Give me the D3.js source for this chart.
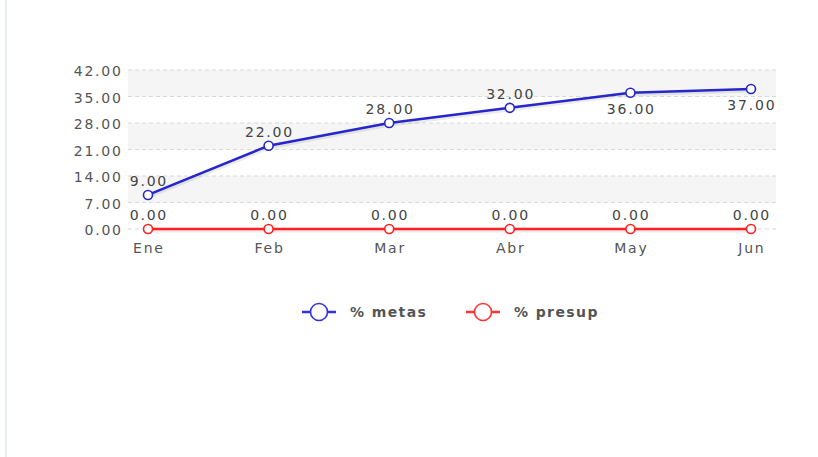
<script src="https://d3js.org/d3.v7.js"></script>
<style>
    body { margin: 0; background: #fff; }
    svg { font-family: "DejaVu Sans", Verdana, sans-serif; }
</style>
<svg width="818" height="457"></svg>
<script>
    const months = ['Ene', 'Feb', 'Mar', 'Abr', 'May', 'Jun'];
    const metas = [9, 22, 28, 32, 36, 37];
    const presup = [0, 0, 0, 0, 0, 0];
    const yTicks = [0, 7, 14, 21, 28, 35, 42];
    // which metas labels sit under their point
    const metasBelow = [false, false, false, false, true, true];

    const svg = d3.select('svg');
    const fs = 14, ls = 1.8;

    // light frame line on the left
    svg.append('rect').attr('x', 5).attr('y', 0).attr('width', 2).attr('height', 457).attr('fill', '#e6edf3');

    const left = 128, right = 776;
    const x = d3.scalePoint().domain(months).range([148, 751]);
    const y = d3.scaleLinear().domain([0, 42]).range([229, 70]);

    // alternating bands
    for (let i = 0; i < yTicks.length - 1; i++) {
        if (i % 2 === 1) continue;
        const top = yTicks[yTicks.length - 1 - i], bot = yTicks[yTicks.length - 2 - i];
        svg.append('rect')
            .attr('x', left).attr('width', right - left)
            .attr('y', y(top)).attr('height', y(bot) - y(top))
            .attr('fill', '#f5f5f5');
    }

    svg.selectAll('line.grid')
        .data(yTicks)
        .join('line')
        .attr('class', 'grid')
        .attr('x1', left).attr('x2', right)
        .attr('y1', d => y(d)).attr('y2', d => y(d))
        .attr('stroke', '#d9d9d9')
        .attr('stroke-dasharray', '4,3');

    svg.selectAll('text.ytick')
        .data(yTicks)
        .join('text')
        .attr('class', 'ytick')
        .attr('x', 121 + ls).attr('y', d => y(d) + 6)
        .attr('text-anchor', 'end')
        .attr('font-size', fs).attr('fill', '#555')
        .attr('letter-spacing', ls)
        .text(d => d.toFixed(2));

    svg.selectAll('text.xtick')
        .data(months)
        .join('text')
        .attr('class', 'xtick')
        .attr('x', d => x(d) + ls / 2).attr('y', 253)
        .attr('text-anchor', 'middle')
        .attr('font-size', fs).attr('fill', '#555')
        .attr('letter-spacing', ls)
        .text(d => d);

    const line = d3.line().x((d, i) => x(months[i])).y(d => y(d));

    function series(values, color, below) {
        const g = svg.append('g');
        // shadow
        g.append('path').datum(values)
            .attr('d', line)
            .attr('transform', 'translate(1,2)')
            .attr('fill', 'none').attr('stroke', 'rgba(0,0,0,0.08)').attr('stroke-width', 3);
        g.append('path').datum(values)
            .attr('d', line)
            .attr('fill', 'none').attr('stroke', color).attr('stroke-width', 2.5);
        g.selectAll('circle')
            .data(values)
            .join('circle')
            .attr('cx', (d, i) => x(months[i])).attr('cy', d => y(d))
            .attr('r', 4.5)
            .attr('fill', '#fff').attr('stroke', color).attr('stroke-width', 1.6);
        g.selectAll('text')
            .data(values)
            .join('text')
            .attr('x', (d, i) => x(months[i]) + ls / 2)
            .attr('y', (d, i) => below[i] ? y(d) + 21 : y(d) - 9)
            .attr('text-anchor', 'middle')
            .attr('font-size', fs).attr('fill', '#444')
            .attr('letter-spacing', ls)
            .text(d => d.toFixed(2));
    }

    series(presup, '#ff2020', presup.map(() => false));
    series(metas, '#2626cc', metasBelow);

    // legend
    const legend = [
        {name: '% metas', color: '#3333dd', x: 302},
        {name: '% presup', color: '#ff3333', x: 466}
    ];
    legend.forEach(l => {
        const g = svg.append('g').attr('transform', `translate(${l.x},312)`);
        g.append('line').attr('x1', 0).attr('x2', 34).attr('stroke', l.color).attr('stroke-width', 2.5);
        g.append('circle').attr('cx', 17).attr('r', 8.5).attr('fill', '#fff').attr('stroke', l.color).attr('stroke-width', 1.6);
        g.append('text').attr('x', 48).attr('y', 5)
            .attr('font-size', fs).attr('font-weight', 'bold').attr('fill', '#555')
            .attr('letter-spacing', 1.4)
            .text(l.name);
    });
</script>
